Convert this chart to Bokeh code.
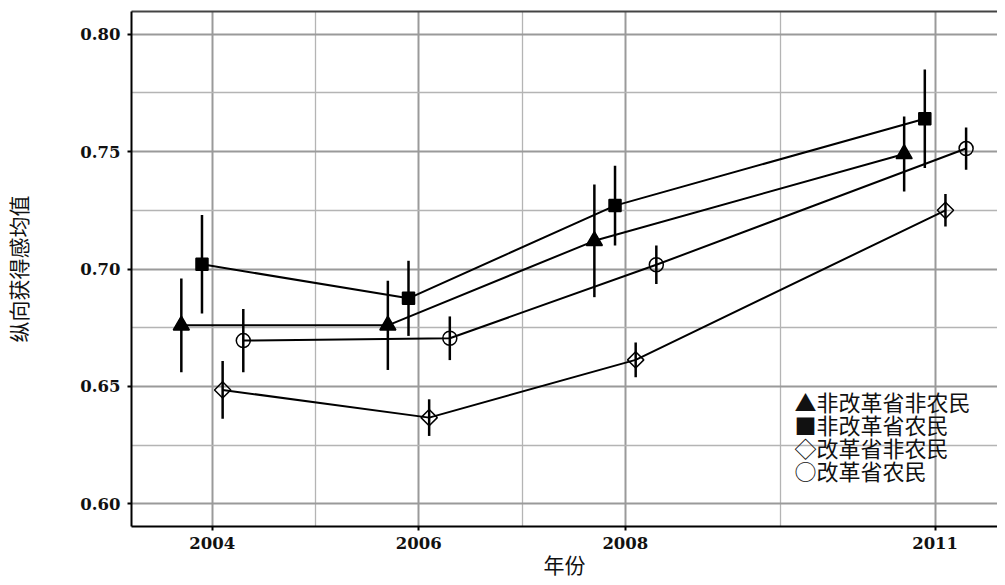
import math
from bokeh.plotting import figure
from bokeh.models import (ColumnDataSource, Range1d, FixedTicker, LinearAxis,
                          NumeralTickFormatter, Label)
from bokeh.transform import dodge
from bokeh.embed import file_html
from bokeh.resources import INLINE

# ---------------- data ----------------
years = [2004, 2006, 2008, 2011]
x_ticks = [2004, 2006, 2008, 2011]
x_minor_ticks = [2005, 2007, 2009.5]
y_ticks = [0.60, 0.65, 0.70, 0.75, 0.80]
y_minor_ticks = [0.625, 0.675, 0.725, 0.775]

series_names = ["非改革省非农民", "非改革省农民", "改革省非农民", "改革省农民"]
legend_symbols = ["▲", "■", "◇", "○"]

nonreform_nonfarmer_mean = [0.676, 0.676, 0.712, 0.749]
nonreform_nonfarmer_err = [0.020, 0.019, 0.024, 0.016]

nonreform_farmer_mean = [0.702, 0.6875, 0.727, 0.764]
nonreform_farmer_err = [0.021, 0.016, 0.017, 0.021]

reform_nonfarmer_mean = [0.6485, 0.6367, 0.6613, 0.725]
reform_nonfarmer_err = [0.0123, 0.0078, 0.0074, 0.0069]

reform_farmer_mean = [0.6695, 0.6705, 0.7018, 0.7513]
reform_farmer_err = [0.0135, 0.0093, 0.0082, 0.0090]

x_label = "年份"
y_label = "纵向获得感均值"

# ---------------- styles ----------------
CJK = "Noto Sans CJK SC"
SERIF = "DejaVu Serif"

styles = [
    dict(marker="triangle", size=16, fill="black", angle=0.0, offset=-0.3),
    dict(marker="square", size=12, fill="black", angle=0.0, offset=-0.1),
    dict(marker="square", size=11.5, fill=None, angle=math.pi / 4, offset=0.1),
    dict(marker="circle", size=14, fill=None, angle=0.0, offset=0.3),
]
means = [nonreform_nonfarmer_mean, nonreform_farmer_mean, reform_nonfarmer_mean, reform_farmer_mean]
errs = [nonreform_nonfarmer_err, nonreform_farmer_err, reform_nonfarmer_err, reform_farmer_err]

p = figure(width=997, height=582, output_backend="svg", toolbar_location=None,
           x_range=Range1d(2003.2174, 2011.604), y_range=Range1d(0.59033, 0.80967),
           min_border_left=129, min_border_right=0, min_border_top=11, min_border_bottom=56,
           background_fill_color="white", border_fill_color="white")
p.outline_line_color = None

# grids
p.xaxis.ticker = FixedTicker(ticks=x_ticks, minor_ticks=x_minor_ticks)
p.yaxis.ticker = FixedTicker(ticks=y_ticks, minor_ticks=y_minor_ticks)
for g in (p.xgrid, p.ygrid):
    g.grid_line_color = "#9a9a9a"
    g.grid_line_width = 2
    g.minor_grid_line_color = "#b4b4b4"
    g.minor_grid_line_width = 1.3

# axes
for ax in (p.xaxis, p.yaxis):
    ax.axis_line_color = "black"
    ax.axis_line_width = 2
    ax.major_tick_line_color = "black"
    ax.major_tick_line_width = 2
    ax.major_tick_in = 0
    ax.major_tick_out = 4
    ax.minor_tick_line_color = None
    ax.major_label_text_font = SERIF
    ax.major_label_text_font_style = "bold"
    ax.major_label_text_font_size = "16.5px"
    ax.major_label_text_color = "#111111"
    ax.axis_label_text_font = CJK
    ax.axis_label_text_font_style = "normal"
    ax.axis_label_text_font_size = "21px"
    ax.axis_label_text_color = "#111111"

p.yaxis.formatter = NumeralTickFormatter(format="0.00")
p.yaxis.major_label_standoff = 7
p.yaxis.axis_label = y_label
p.yaxis.axis_label_standoff = 44
p.xaxis.major_label_standoff = 6
p.xaxis.axis_label = x_label
p.xaxis.axis_label_standoff = -3

top_axis = LinearAxis(ticker=FixedTicker(ticks=[]), major_label_text_font_size="0px",
                      major_tick_line_color=None, minor_tick_line_color=None,
                      axis_line_color="#444444", axis_line_width=2,
                      major_label_standoff=0)
p.add_layout(top_axis, "above")

for name, st, m, e in zip(series_names, styles, means, errs):
    src = ColumnDataSource(dict(
        year=years, mean=m,
        lower=[a - b for a, b in zip(m, e)],
        upper=[a + b for a, b in zip(m, e)],
    ))
    xd = dodge("year", st["offset"], range=p.x_range)
    p.line(x=xd, y="mean", source=src, line_color="black", line_width=2)
    p.segment(x0=xd, y0="lower", x1=xd, y1="upper", source=src,
              line_color="black", line_width=2.5)
    p.scatter(x=xd, y="mean", source=src, marker=st["marker"], size=st["size"],
              angle=st["angle"], line_color="black", line_width=1.5,
              fill_color=st["fill"] if st["fill"] else None,
              fill_alpha=1.0 if st["fill"] else 0.0)

# legend (symbol + series name), drawn as text in the lower right of the frame
LEG_X, LEG_Y0, LEG_DY = 663, 126, 23.3
for i, (sym, name) in enumerate(zip(legend_symbols, series_names)):
    p.add_layout(Label(x=LEG_X, y=LEG_Y0 - i * LEG_DY, x_units="screen", y_units="screen",
                       text=sym + name, text_align="left", text_baseline="middle",
                       text_font=CJK, text_font_size="22px", text_color="#111111"))

open("out.html", "w").write(file_html(p, INLINE))
